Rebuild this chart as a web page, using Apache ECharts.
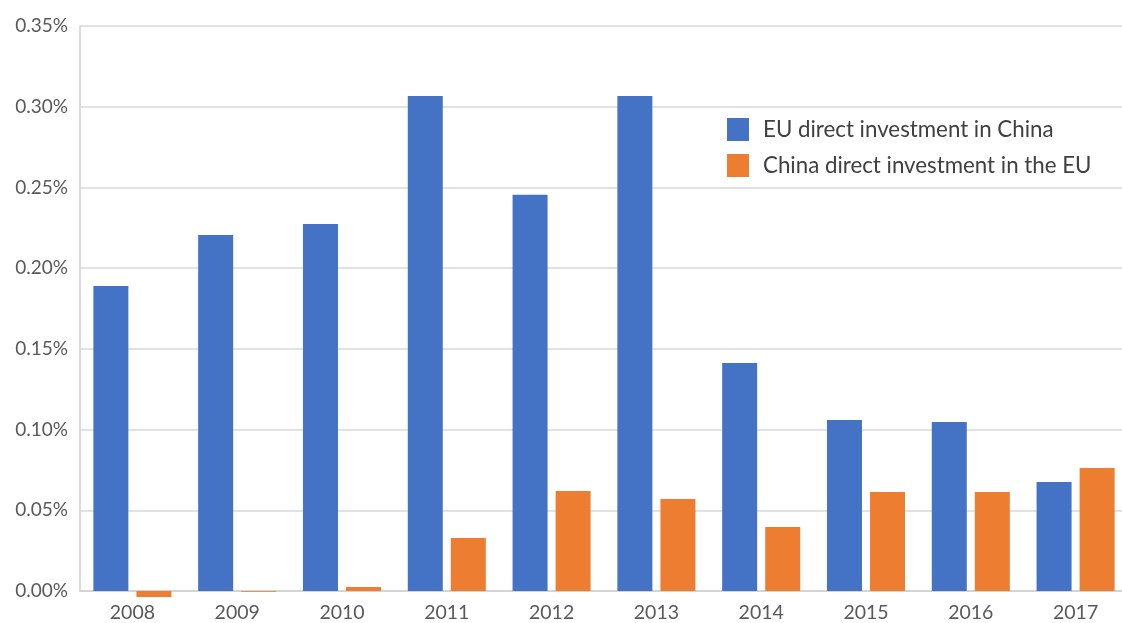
<!DOCTYPE html>
<html><head><meta charset="utf-8">
<script src="https://cdn.jsdelivr.net/npm/echarts@6/dist/echarts.min.js"></script>
<style>html,body{margin:0;padding:0;background:#fff;overflow:hidden}#c{width:1128px;height:623px}</style>
</head><body><div id="c"></div>
<script>
const categories = ['2008','2009','2010','2011','2012','2013','2014','2015','2016','2017'];
const euInChina = [0.189, 0.2206, 0.2274, 0.3067, 0.2454, 0.3067, 0.1413, 0.106, 0.1047, 0.0675];
const chinaInEU = [-0.0037, -0.0004, 0.0025, 0.0328, 0.062, 0.057, 0.0397, 0.0613, 0.0613, 0.0762];
const seriesNames = ['EU direct investment in China', 'China direct investment in the EU'];
const yTicks = {min: 0, max: 0.35, interval: 0.05};

const chart = echarts.init(document.getElementById('c'));
chart.setOption({
  animation: false,
  textStyle: {fontFamily: 'Lato'},
  grid: {left: 80, right: 0, top: 26, bottom: 32, containLabel: false},
  legend: {
    orient: 'vertical', left: 727, top: 118, padding: 0, itemWidth: 22, itemHeight: 23, itemGap: 13,
    icon: 'rect',
    textStyle: {fontSize: 22.3, color: '#404040', fontFamily: 'Lato', padding: [0,0,0,9]},
    data: seriesNames
  },
  xAxis: {
    type: 'category', data: categories,
    axisLine: {lineStyle: {color: '#d0d0d0', width: 1.5}},
    axisTick: {show: false},
    axisLabel: {fontSize: 19.5, color: '#595959', margin: 12}
  },
  yAxis: {
    type: 'value', min: yTicks.min, max: yTicks.max, interval: yTicks.interval,
    axisLine: {show: true, lineStyle: {color: '#d0d0d0', width: 1.5}},
    axisTick: {show: false},
    splitLine: {lineStyle: {color: '#d9d9d9', width: 1.5}},
    axisLabel: {fontSize: 19, color: '#595959', margin: 12, formatter: v => v.toFixed(2) + '%'}
  },
  series: [
    {name: seriesNames[0], type: 'bar', data: euInChina, barWidth: 35, barGap: '23%', clip: false, itemStyle: {color: '#4472C4'}},
    {name: seriesNames[1], type: 'bar', data: chinaInEU, barWidth: 35, clip: false, itemStyle: {color: '#ED7D31'}}
  ]
});
</script></body></html>
